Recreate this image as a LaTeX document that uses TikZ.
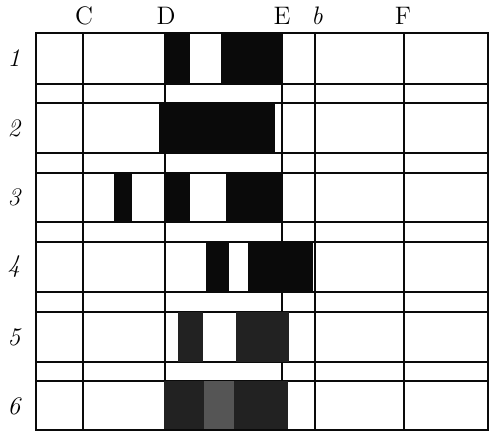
\documentclass[tikz,border=0pt]{standalone}
\usepackage{xcolor}
\usepackage{tikz}
\definecolor{ink}{HTML}{0A0A0A}
\definecolor{shade}{HTML}{222222}
\definecolor{paleshade}{HTML}{555555}

\begin{document}
\begin{tikzpicture}[
  x=0.02cm, y=-0.02cm,
  font=\Large,
  rule/.style={draw=ink, line width=0.9pt},
  band/.style={fill=ink},
  smudge/.style={fill=shade},
  palesmudge/.style={fill=paleshade},
  lbl/.style={inner sep=0pt}
]
\useasboundingbox (0,0) rectangle (500,447);
% grid lines
\foreach \y in {84,103,153,173,222,242,292,312,362,381}
  \draw[rule] (36,\y) -- (488,\y);
\foreach \x in {83,165,282,315,404}
  \draw[rule] (\x,33) -- (\x,430);
% row 1
\fill[band] (165,33) rectangle (190,84);
\fill[band] (221,33) rectangle (282,84);
% row 2
\fill[band] (159,103) rectangle (275,153);
% row 3
\fill[band] (114,173) rectangle (132,222);
\fill[band] (164,173) rectangle (190,222);
\fill[band] (226,173) rectangle (282,222);
% row 4
\fill[band] (206,242) rectangle (229,292);
\fill[band] (248,242) rectangle (313,292);
% row 5
\fill[smudge] (178,312) rectangle (203,362);
\fill[smudge] (236,312) rectangle (289,362);
% row 6
\fill[smudge] (164,381) rectangle (204,430);
\fill[palesmudge] (204,381) rectangle (234,430);
\fill[smudge] (234,381) rectangle (288,430);
% frame
\draw[rule] (36,33) rectangle (488,430);
% column labels
\node[lbl] (colC) at (84,16) {C};
\node[lbl] (colD) at (166,16) {D};
\node[lbl] (colE) at (282,16) {E};
\node[lbl] (colb) at (317,16) {\itshape b};
\node[lbl] (colF) at (403,16) {F};
% row labels
\node[lbl] (row1) at (14,58) {\itshape 1};
\node[lbl] (row2) at (14,128) {\itshape 2};
\node[lbl] (row3) at (14,197) {\itshape 3};
\node[lbl] (row4) at (14,267) {\itshape 4};
\node[lbl] (row5) at (14,337) {\itshape 5};
\node[lbl] (row6) at (14,406) {\itshape 6};
\end{tikzpicture}
\end{document}
